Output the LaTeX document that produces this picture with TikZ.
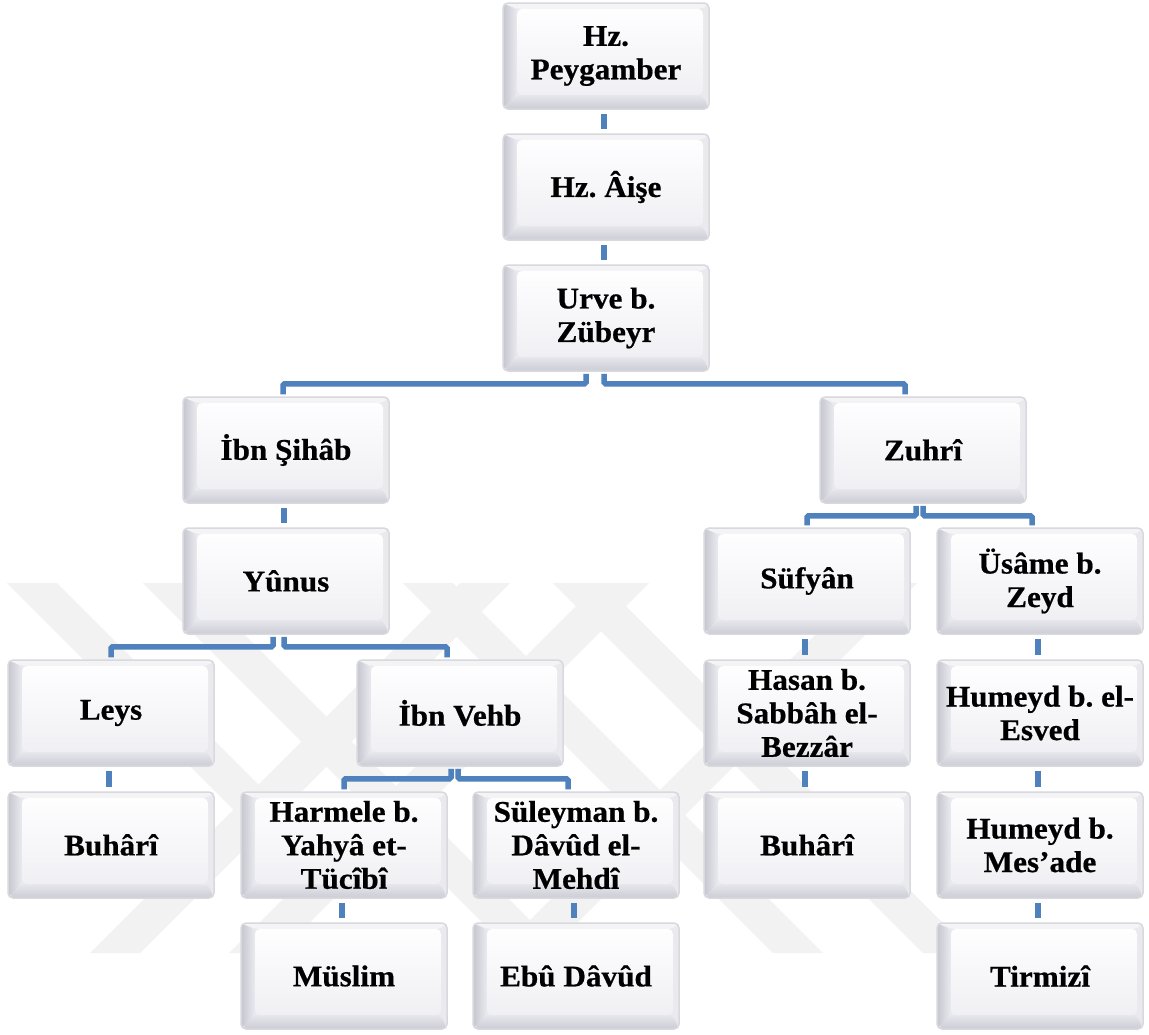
\documentclass[tikz,border=0pt]{standalone}
\usepackage{fontspec}
\setmainfont{Liberation Serif}[FakeStretch=1.04]
\newfontfamily\boxfont{Liberation Serif}[FakeStretch=1.04,BoldFeatures={FakeBold=0.6}]
\usetikzlibrary{calc}
\frenchspacing
\definecolor{conblue}{RGB}{79,129,189}
\definecolor{rim}{RGB}{216,216,222}
\definecolor{bevLa}{RGB}{198,198,208}
\definecolor{bevLb}{RGB}{234,234,240}
\definecolor{bevT}{RGB}{244,244,247}
\definecolor{bevR}{RGB}{234,234,238}
\definecolor{bevBa}{RGB}{230,230,236}
\definecolor{bevBb}{RGB}{204,204,213}
\definecolor{facetop}{RGB}{254,254,255}
\definecolor{facebot}{RGB}{240,240,244}
\definecolor{wm}{RGB}{242,242,242}
\tikzset{
  bevelbox/.style={draw=rim, line width=1.5pt, rounded corners=5pt,
    minimum width=206pt, minimum height=106pt, inner sep=0pt,
    align=center, font=\boxfont\fontsize{30}{33.5}\selectfont\bfseries\frenchspacing,
    path picture={
      \coordinate (pbl) at (path picture bounding box.south west);
      \coordinate (ptr) at (path picture bounding box.north east);
      \coordinate (ptl) at (path picture bounding box.north west);
      \coordinate (pbr) at (path picture bounding box.south east);
      \fill[bevR] (pbl) rectangle (ptr);
      \shade[left color=bevLa, right color=bevLb] (pbl) -- ([shift={(14pt,14pt)}]pbl) -- ([shift={(14pt,-6pt)}]ptl) -- (ptl) -- cycle;
      \fill[bevT] (ptl) -- ([shift={(14pt,-6pt)}]ptl) -- ([shift={(-6pt,-6pt)}]ptr) -- (ptr) -- cycle;
      \shade[top color=bevBa, bottom color=bevBb] (pbl) -- ([shift={(14pt,14pt)}]pbl) -- ([shift={(-6pt,14pt)}]pbr) -- (pbr) -- cycle;
      \shade[top color=facetop, bottom color=facebot] ([shift={(14pt,14pt)}]pbl) rectangle ([shift={(-6pt,-6pt)}]ptr);
    }},
  conn/.style={draw=conblue, line width=5.5pt, rounded corners=1.5pt},
  wmband/.style={fill=wm}
}
\begin{document}
\begin{tikzpicture}[x=1pt,y=-1pt]
\fill[white] (0,0) rectangle (1149,1034);
\useasboundingbox (0,0) rectangle (1149,1034);
% watermark bands
\foreach \a/\L in {7/267,143/370,403/370,553/370}{
  \fill[wmband] (\a,583) -- ({\a+50},583) -- ({\a+50+\L},{583+\L}) -- ({\a+\L},{583+\L}) -- cycle;
}
\foreach \a in {460,599,867}{
  \fill[wmband] (\a,583) -- ({\a+50},583) -- ({\a+50-370},953) -- ({\a-370},953) -- cycle;
}
% nodes
\node[bevelbox] (peyg) at (606,56) {Hz.\\Peygamber};
\node[bevelbox] (aise) at (606,187) {Hz. Âişe};
\node[bevelbox] (urve) at (606,318) {Urve b.\\Zübeyr};
\node[bevelbox] (ibnsihab) at (286,450) {İbn Şihâb};
\node[bevelbox] (zuhri) at (923,450) {Zuhrî};
\node[bevelbox] (yunus) at (286,581) {Yûnus};
\node[bevelbox] (sufyan) at (807,581) {Süfyân};
\node[bevelbox] (usame) at (1040,581) {Üsâme b.\\Zeyd};
\node[bevelbox] (leys) at (111,713) {Leys};
\node[bevelbox] (ibnvehb) at (460,713) {İbn Vehb};
\node[bevelbox] (hasan) at (807,713) {Hasan b.\\Sabbâh el-\\Bezzâr};
\node[bevelbox] (humeyda) at (1040,713) {Humeyd b. el-\\Esved};
\node[bevelbox] (buharia) at (111,845) {Buhârî};
\node[bevelbox] (harmele) at (344,845) {Harmele b.\\Yahyâ et-\\Tücîbî};
\node[bevelbox] (suleyman) at (576,845) {Süleyman b.\\Dâvûd el-\\Mehdî};
\node[bevelbox] (buharib) at (807,845) {Buhârî};
\node[bevelbox] (humeydb) at (1040,845) {Humeyd b.\\Mes’ade};
\node[bevelbox] (muslim) at (344,976) {Müslim};
\node[bevelbox] (ebudavud) at (576,976) {Ebû Dâvûd};
\node[bevelbox] (tirmizi) at (1040,976) {Tirmizî};
% straight connectors
\foreach \p/\c in {peyg/aise,aise/urve,ibnsihab/yunus,leys/buharia,sufyan/hasan,hasan/buharib,usame/humeyda,humeyda/humeydb,humeydb/tirmizi,harmele/muslim,suleyman/ebudavud}{
  \draw[conn] ([xshift=-2pt,yshift=-4pt]\p.south) -- ([xshift=-2pt,yshift=4pt]\c.north);
}
% branch connectors
\draw[conn] ([xshift=-20pt,yshift=-2pt]urve.south) -- ++(0,-10pt) -| ([xshift=-3pt,yshift=2pt]ibnsihab.north);
\draw[conn] ([xshift=-2pt,yshift=-2pt]urve.south) -- ++(0,-10pt) -| ([xshift=-18pt,yshift=2pt]zuhri.north);
\draw[conn] ([xshift=-7pt,yshift=-2pt]zuhri.south) -- ++(0,-10pt) -| ([yshift=2pt]sufyan.north);
\draw[conn] ([xshift=0pt,yshift=-2pt]zuhri.south) -- ++(0,-10pt) -| ([xshift=-8pt,yshift=2pt]usame.north);
\draw[conn] ([xshift=-13pt,yshift=-2pt]yunus.south) -- ++(0,-10pt) -| ([yshift=2pt]leys.north);
\draw[conn] ([xshift=-2pt,yshift=-2pt]yunus.south) -- ++(0,-10pt) -| ([xshift=-13pt,yshift=2pt]ibnvehb.north);
\draw[conn] ([xshift=-9pt,yshift=-2pt]ibnvehb.south) -- ++(0,-10pt) -| ([yshift=2pt]harmele.north);
\draw[conn] ([xshift=-2pt,yshift=-2pt]ibnvehb.south) -- ++(0,-10pt) -| ([xshift=-8pt,yshift=2pt]suleyman.north);
\end{tikzpicture}
\end{document}
